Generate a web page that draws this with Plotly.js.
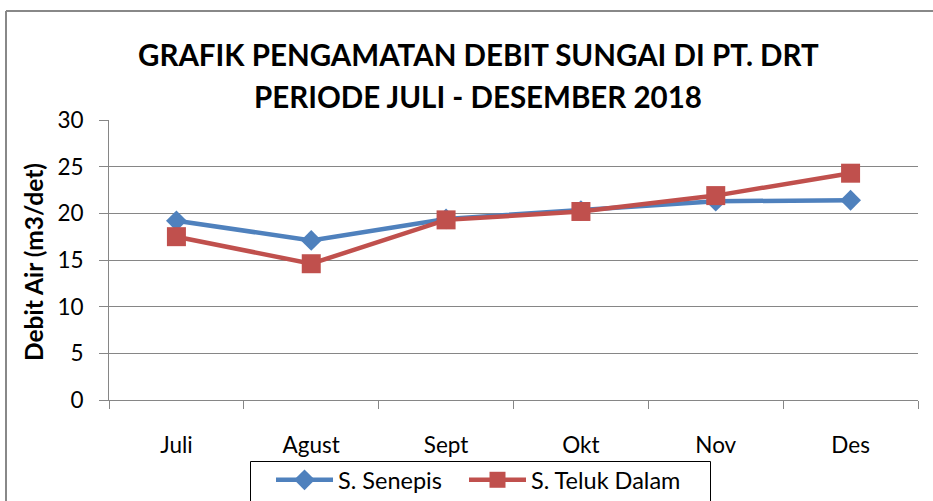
<!DOCTYPE html>
<html>
<head>
<meta charset="utf-8">
<script src="https://cdn.plot.ly/plotly-3.0.1.min.js"></script>
<style>
html,body{margin:0;padding:0;background:#fff;}
#chart{width:933px;height:501px;}
</style>
</head>
<body>
<div id="chart"></div>
<script>
const months = ["Juli", "Agust", "Sept", "Okt", "Nov", "Des"];
const senepis = [19.2, 17.1, 19.4, 20.3, 21.3, 21.4];
const telukDalam = [17.5, 14.6, 19.3, 20.2, 21.9, 24.3];
const yTicks = [0, 5, 10, 15, 20, 25, 30];
const titleLines = ["GRAFIK PENGAMATAN DEBIT SUNGAI DI PT. DRT", "PERIODE JULI - DESEMBER 2018"];
const yTitle = "Debit Air (m3/det)";
const seriesNames = ["S. Senepis", "S. Teluk Dalam"];

const FONT = "Lato, 'Open Sans', sans-serif";
const W = 933, H = 501, L = 109, R = 15, T = 120, B = 101;
const pw = W - L - R, ph = H - T - B;
const px = x => (x - L) / pw;
const py = y => (H - B - y) / ph;

const traces = [
  {
    x: months, y: senepis, name: seriesNames[0], type: "scatter", mode: "lines+markers",
    line: {color: "#4F81BD", width: 4.5},
    marker: {symbol: "diamond", size: 16, color: "#4F81BD"},
    legend: "legend"
  },
  {
    x: months, y: telukDalam, name: seriesNames[1], type: "scatter", mode: "lines+markers",
    line: {color: "#C0504D", width: 4.5},
    marker: {symbol: "square", size: 19, color: "#C0504D"},
    legend: "legend2"
  }
];

const legendBase = {
  orientation: "h", xanchor: "left", y: py(458), yanchor: "top",
  bgcolor: "rgba(0,0,0,0)", borderwidth: 0, font: {size: 23.5, family: FONT},
  itemwidth: 57
};

const layout = {
  width: W, height: H,
  margin: {l: L, r: R, t: T, b: B, pad: 0, autoexpand: false},
  paper_bgcolor: "#fff", plot_bgcolor: "#fff",
  font: {family: FONT, color: "#000", size: 22},
  showlegend: true,
  legend: Object.assign({}, legendBase, {x: px(271)}),
  legend2: Object.assign({}, legendBase, {x: px(464)}),
  xaxis: {
    type: "category", range: [-0.5, 5.5], fixedrange: true,
    showgrid: false, zeroline: false, showline: true, linecolor: "#868686", linewidth: 1,
    ticks: "outside", tickson: "boundaries", ticklen: 8, tickcolor: "#868686",
    ticklabelstandoff: 25, tickfont: {size: 22.5, family: FONT}
  },
  yaxis: {
    range: [0, 30], tickvals: yTicks, ticktext: yTicks.map(String), fixedrange: true,
    showgrid: true, gridcolor: "#868686", gridwidth: 1, zeroline: false,
    showline: true, linecolor: "#868686", linewidth: 1,
    ticks: "outside", ticklen: 9, tickcolor: "#868686",
    ticklabelstandoff: 11, tickfont: {size: 22.5, family: FONT}
  },
  annotations: [
    {text: "<b>" + titleLines[0] + "</b>", xref: "paper", yref: "paper", x: px(478), y: py(55),
     xanchor: "center", yanchor: "middle", showarrow: false, font: {size: 29.5, family: FONT}},
    {text: "<b>" + titleLines[1] + "</b>", xref: "paper", yref: "paper", x: px(478), y: py(96),
     xanchor: "center", yanchor: "middle", showarrow: false, font: {size: 29.5, family: FONT}},
    {text: "<b>" + yTitle + "</b>", xref: "paper", yref: "paper", x: px(33), y: py(262),
     xanchor: "center", yanchor: "middle", textangle: -90, showarrow: false, font: {size: 24.5, family: FONT}}
  ],
  shapes: [
    {type: "line", xref: "paper", yref: "paper", x0: px(6), x1: px(940), y0: py(11), y1: py(11),
     line: {color: "#888", width: 2}},
    {type: "line", xref: "paper", yref: "paper", x0: px(6), x1: px(6), y0: py(11), y1: py(510),
     line: {color: "#888", width: 2}},
    {type: "rect", xref: "paper", yref: "paper", x0: px(250.5), x1: px(710.5), y0: py(461.5), y1: py(520),
     line: {color: "#000", width: 1}, fillcolor: "rgba(0,0,0,0)"}
  ]
};

Plotly.newPlot("chart", traces, layout, {displayModeBar: false, staticPlot: true});
</script>
</body>
</html>
